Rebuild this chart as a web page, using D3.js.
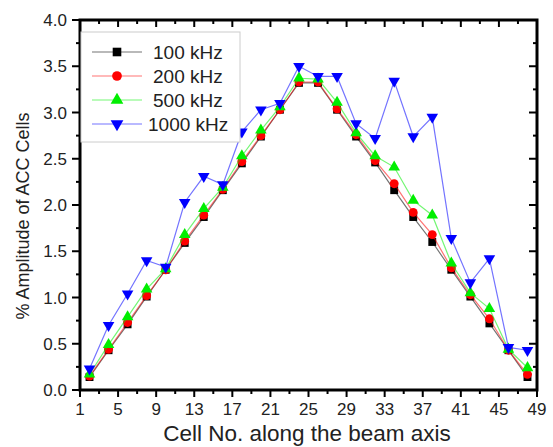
<!DOCTYPE html>
<html>
<head>
<meta charset="utf-8">
<script src="https://cdn.jsdelivr.net/npm/d3@7"></script>
<style>
body { margin: 0; background: #fff; }
text { font-family: "Liberation Sans", Arial, sans-serif; }
</style>
</head>
<body>
<svg width="553" height="447"></svg>
<script>
// cell numbers along the beam axis
var cells = [2, 4, 6, 8, 10, 12, 14, 16, 18, 20, 22, 24, 26, 28, 30, 32, 34, 36, 38, 40, 42, 44, 46, 48];

var s100 = [0.14, 0.43, 0.71, 1.01, 1.30, 1.59, 1.87, 2.16, 2.45, 2.74, 3.03, 3.32, 3.32, 3.03, 2.74, 2.46, 2.16, 1.87, 1.60, 1.30, 1.01, 0.72, 0.43, 0.14];
var s200 = [0.15, 0.44, 0.73, 1.02, 1.30, 1.61, 1.89, 2.17, 2.47, 2.75, 3.03, 3.33, 3.33, 3.04, 2.76, 2.48, 2.23, 1.92, 1.68, 1.32, 1.03, 0.77, 0.43, 0.17];
var s500 = [0.17, 0.49, 0.79, 1.09, 1.31, 1.68, 1.96, 2.19, 2.53, 2.81, 3.06, 3.37, 3.36, 3.11, 2.78, 2.53, 2.41, 2.05, 1.89, 1.37, 1.05, 0.88, 0.44, 0.24];
var s1000 = [0.23, 0.70, 1.04, 1.40, 1.33, 2.03, 2.31, 2.22, 2.79, 3.03, 3.10, 3.50, 3.39, 3.39, 2.88, 2.72, 3.34, 2.74, 2.95, 1.64, 1.16, 1.42, 0.46, 0.43];

var seriesNames = ["100 kHz", "200 kHz", "500 kHz", "1000 kHz"];
var seriesColors = ["#000000", "#ff0000", "#00ee00", "#0000ff"];
var seriesSymbols = [d3.symbolSquare, d3.symbolCircle, d3.symbolTriangle, "down"];

var xTicks = d3.range(1, 50, 4);
var yTicks = d3.range(0, 4.01, 0.5);

var svg = d3.select("svg");
var pL = 80, pR = 537, pT = 20, pB = 390;

var x = d3.scaleLinear().domain([1, 49]).range([pL, pR]);
var y = d3.scaleLinear().domain([0, 4]).range([pB, pT]);

var all = [s100, s200, s500, s1000];
var symSizes = [62, 62, 58, 58];

function symbolPath(sym, size) {
  if (sym === "down") return d3.symbol(d3.symbolTriangle, size)();
  return d3.symbol(sym, size)();
}

// minor ticks
var xMinor = d3.range(1, 50, 2);
var yMinor = d3.range(0, 4.01, 0.25);

var ax = svg.append("g");
ax.selectAll("line.xb").data(xMinor).enter().append("line")
  .attr("x1", function (d) {return x(d);}).attr("x2", function (d) {return x(d);})
  .attr("y1", pB).attr("y2", function (d) {return (d - 1) % 4 === 0 ? pB + 7 : pB + 4;})
  .attr("stroke", "#000").attr("stroke-width", 2);
ax.selectAll("line.xt").data(xMinor).enter().append("line")
  .attr("x1", function (d) {return x(d);}).attr("x2", function (d) {return x(d);})
  .attr("y1", pT).attr("y2", function (d) {return (d - 1) % 4 === 0 ? pT + 7 : pT + 4;})
  .attr("stroke", "#000").attr("stroke-width", 2);
ax.selectAll("line.yl").data(yMinor).enter().append("line")
  .attr("y1", function (d) {return y(d);}).attr("y2", function (d) {return y(d);})
  .attr("x1", pL).attr("x2", function (d, i) {return i % 2 === 0 ? pL - 8 : pL - 4;})
  .attr("stroke", "#000").attr("stroke-width", 2);
ax.selectAll("line.yr").data(yMinor).enter().append("line")
  .attr("y1", function (d) {return y(d);}).attr("y2", function (d) {return y(d);})
  .attr("x1", pR).attr("x2", function (d, i) {return i % 2 === 0 ? pR - 8 : pR - 4;})
  .attr("stroke", "#000").attr("stroke-width", 2);

ax.selectAll("text.xl").data(xTicks).enter().append("text")
  .attr("x", function (d) {return x(d);}).attr("y", 415)
  .attr("text-anchor", "middle").attr("font-size", 17).attr("fill", "#222")
  .text(function (d) {return d;});
ax.selectAll("text.yl").data(yTicks).enter().append("text")
  .attr("x", 67).attr("y", function (d) {return y(d) + 6;})
  .attr("text-anchor", "end").attr("font-size", 17).attr("fill", "#222")
  .text(function (d) {return d.toFixed(1);});

svg.append("rect").attr("x", pL).attr("y", pT)
  .attr("width", pR - pL).attr("height", pB - pT)
  .attr("fill", "none").attr("stroke", "#000").attr("stroke-width", 3);

// series
var line = d3.line().x(function (d, i) {return x(cells[i]);}).y(function (d) {return y(d);});
all.forEach(function (s, k) {
  var g = svg.append("g");
  g.append("path").attr("d", line(s)).attr("fill", "none")
    .attr("stroke", seriesColors[k]).attr("stroke-opacity", 0.55).attr("stroke-width", 1.2);
  g.selectAll("path.m").data(s).enter().append("path")
    .attr("d", symbolPath(seriesSymbols[k], symSizes[k]))
    .attr("transform", function (d, i) {
      return "translate(" + x(cells[i]) + "," + y(d) + ")" + (seriesSymbols[k] === "down" ? " rotate(180)" : "");
    })
    .attr("fill", seriesColors[k]);
});

// legend
var lg = svg.append("g");
lg.append("rect").attr("x", 81).attr("y", 32).attr("width", 159).attr("height", 110)
  .attr("fill", "#fff").attr("stroke", "#ccc").attr("stroke-width", 1);
seriesNames.forEach(function (n, k) {
  var ly = 52 + k * 24;
  lg.append("line").attr("x1", 92).attr("x2", 142).attr("y1", ly).attr("y2", ly)
    .attr("stroke", seriesColors[k]).attr("stroke-opacity", 0.55).attr("stroke-width", 1.2);
  lg.append("path").attr("d", symbolPath(seriesSymbols[k], symSizes[k] + 12))
    .attr("transform", "translate(117," + ly + ")" + (seriesSymbols[k] === "down" ? " rotate(180)" : ""))
    .attr("fill", seriesColors[k]);
  lg.append("text").attr("x", k === 3 ? 148 : 153).attr("y", ly + 6.5)
    .attr("font-size", 19).attr("fill", "#222").text(n);
});

svg.append("text").attr("x", 307).attr("y", 441).attr("text-anchor", "middle")
  .attr("font-size", 22.5).attr("fill", "#222").text("Cell No. along the beam axis");
svg.append("text").attr("transform", "translate(29,216) rotate(-90)")
  .attr("text-anchor", "middle").attr("font-size", 18).attr("fill", "#222")
  .text("% Amplitude of ACC Cells");
</script>
</body>
</html>
